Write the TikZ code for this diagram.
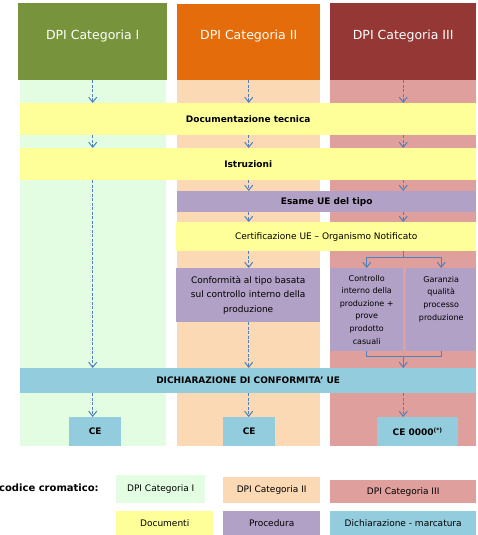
\documentclass[tikz,border=0pt]{standalone}
\usepackage{fontspec}
\setmainfont{DejaVu Sans}
\usetikzlibrary{arrows.meta,positioning}
\definecolor{hdrone}{HTML}{77933C}
\definecolor{hdrtwo}{HTML}{E46C0A}
\definecolor{hdrthree}{HTML}{953735}
\definecolor{bgone}{HTML}{E3FDE3}
\definecolor{bgtwo}{HTML}{FCD9B5}
\definecolor{bgthree}{HTML}{DE9F9D}
\definecolor{docyel}{HTML}{FFFF99}
\definecolor{procvio}{HTML}{B2A1C7}
\definecolor{decblue}{HTML}{93CDDD}
\definecolor{arrblue}{HTML}{4F81BD}

\begin{document}
\begin{tikzpicture}[
  x=1pt, y=-1pt,
  hdr/.style={anchor=north west, inner sep=0pt, text=white, text height=36.5pt, text depth=40.5pt, font=\fontsize{12.5}{15}\selectfont},
  box/.style={anchor=north west, inner sep=0pt, align=center, font=\fontsize{9}{11}\selectfont\bfseries},
  txt/.style={anchor=north west, inner sep=0pt, align=center, font=\fontsize{9}{14.5}\selectfont},
  small/.style={inner sep=0pt, align=center, font=\fontsize{8}{12.6}\selectfont},
  key/.style={anchor=north west, inner sep=0pt, font=\fontsize{9}{11}\selectfont},
  arr/.style={-{Straight Barb[length=5pt,width=8pt,line width=1pt]}, line width=1pt, draw=arrblue, dash pattern=on 3pt off 1.5pt},
  link/.style={line width=1pt, draw=arrblue},
  solarr/.style={link, -{Straight Barb[length=5pt,width=8pt,line width=1pt]}}
]
\useasboundingbox (0,0) rectangle (478,535);

% column backgrounds
\fill[bgone] (20,80) rectangle (166,446);
\fill[bgtwo] (177,80) rectangle (320,446);
\fill[bgthree] (330,80) rectangle (476,446);

\node[hdr, fill=hdrone, minimum width=149pt] (h1) at (18,3) {DPI Categoria I};
\node[hdr, fill=hdrtwo, minimum width=143pt, text height=35.5pt] (h2) at (177,4) {DPI Categoria II};
\node[hdr, fill=hdrthree, minimum width=146pt] (h3) at (330,3) {DPI Categoria III};

\node[box, fill=docyel, minimum width=456pt, minimum height=32pt] (doc) at (20,103) {Documentazione tecnica};
\node[box, fill=docyel, minimum width=456pt, minimum height=32pt] (istr) at (20,148) {Istruzioni};
\node[box, fill=procvio, minimum width=299pt, minimum height=21pt] (esame) at (177,191) {Esame UE del tipo};
\node[box, fill=docyel, minimum width=300pt, minimum height=29pt, font=\fontsize{9}{11}\selectfont] (cert) at (176,222) {Certificazione UE – Organismo Notificato};
\node[txt, fill=procvio, minimum width=144pt, minimum height=54pt] (conf) at (176,268) {Conformità al tipo basata\\sul controllo interno della\\produzione};
\node[small, anchor=north west, fill=procvio, minimum width=73pt, minimum height=83pt] (ctrl) at (330,268) {Controllo\\interno della\\produzione +\\prove\\prodotto\\casuali};
\node[small, anchor=north west, fill=procvio, minimum width=70pt, minimum height=83pt] (gar) at (406,268) {};
\node[small, anchor=north] (gartxt) at ([yshift=-8pt]gar.north) {Garanzia\\qualità\\processo\\produzione};
\node[box, fill=decblue, minimum width=456pt, minimum height=25pt] (dich) at (20,368) {DICHIARAZIONE DI CONFORMITA’ UE};
\node[box, fill=decblue, minimum width=52pt, minimum height=29pt] (ce1) at (69,417) {CE};
\node[box, fill=decblue, minimum width=52pt, minimum height=29pt] (ce2) at (223,417) {CE};
\node[box, fill=decblue, minimum width=81pt, minimum height=29pt] (ce3) at (377,417) {CE 0000\textsuperscript{(*)}};

% legend
\node[anchor=west, inner sep=0pt, font=\fontsize{10}{12}\selectfont\bfseries] (codice) at (-1,488) {codice cromatico:};
\node[key, fill=bgone, minimum width=89pt, minimum height=28pt] (lg1) at (116,475) {DPI Categoria I};
\node[key, fill=bgtwo, minimum width=97pt, minimum height=26pt] (lg2) at (223,477) {DPI Categoria II};
\node[key, fill=bgthree, minimum width=146pt, minimum height=23pt] (lg3) at (330,480) {DPI Categoria III};
\node[key, fill=docyel, minimum width=97pt, minimum height=24pt] (lg4) at (116,511) {Documenti};
\node[key, fill=procvio, minimum width=97pt, minimum height=24pt] (lg5) at (223,511) {Procedura};
\node[key, fill=decblue, minimum width=146pt, minimum height=24pt] (lg6) at (330,511) {Dichiarazione - marcatura};

% column I
\draw[arr] (h1.south) -- (h1.south |- doc.north);
\draw[arr] (doc.south -| h1.south) -- (istr.north -| h1.south);
\draw[arr] (istr.south -| h1.south) -- (dich.north -| h1.south);
\draw[arr] (dich.south -| h1.south) -- (ce1.north -| h1.south);

% column II
\draw[arr] (h2.south) -- (h2.south |- doc.north);
\draw[arr] (doc.south -| h2.south) -- (istr.north -| h2.south);
\draw[arr] (istr.south -| h2.south) -- (esame.north -| h2.south);
\draw[arr] (esame.south -| h2.south) -- (cert.north -| h2.south);
\draw[arr] (cert.south -| h2.south) -- (conf.north -| h2.south);
\draw[arr] (conf.south -| h2.south) -- (dich.north -| h2.south);
\draw[arr] (dich.south -| h2.south) -- (ce2.north -| h2.south);

% column III
\draw[arr] (h3.south) -- (h3.south |- doc.north);
\draw[arr] (doc.south -| h3.south) -- (istr.north -| h3.south);
\draw[arr] (istr.south -| h3.south) -- (esame.north -| h3.south);
\draw[arr] (esame.south -| h3.south) -- (cert.north -| h3.south);
\draw[link] (cert.south -| h3.south) -- ++(0,6) coordinate (fork);
\draw[link] (fork -| ctrl.north) -- (fork -| gar.north);
\draw[solarr] (fork -| ctrl.north) -- (ctrl.north);
\draw[solarr] (fork -| gar.north) -- (gar.north);
\draw[link] (ctrl.south) -- ++(0,5) coordinate (joinl) -| (gar.south);
\draw[solarr] (joinl -| h3.south) -- (dich.north -| h3.south);
\draw[arr] (dich.south -| h3.south) -- (ce3.north -| h3.south);
\end{tikzpicture}
\end{document}
